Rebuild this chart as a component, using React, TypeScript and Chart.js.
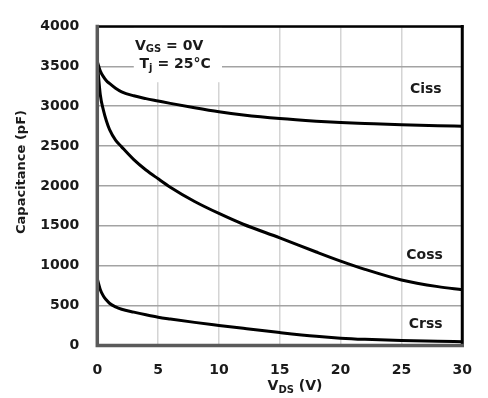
import React, { useEffect, useRef } from "react";
import { Chart, registerables } from "chart.js";
Chart.register(...registerables);

// V_DS sample points (V)
const vds = [0, 0.25, 0.5, 0.75, 1, 1.5, 2, 3, 4, 5, 6, 8, 10, 12, 15, 18, 20, 22, 25, 28, 30];
// Capacitance values (pF)
const ciss = [3560, 3440, 3370, 3320, 3285, 3225, 3180, 3130, 3095, 3065, 3035, 2980, 2930, 2890, 2845, 2812, 2795, 2783, 2766, 2754, 2748];
const coss = [3550, 3140, 2950, 2815, 2710, 2575, 2490, 2330, 2200, 2090, 1985, 1805, 1655, 1520, 1350, 1172, 1058, 955, 822, 738, 700];
const crss = [835, 700, 620, 570, 530, 485, 455, 418, 385, 355, 332, 290, 252, 215, 162, 115, 92, 77, 62, 52, 48];

const seriesNames = ["Ciss", "Coss", "Crss"];
const xTitleMain = "V";
const xTitleSub = "DS";
const xTitleRest = " (V)";
const yTitle = "Capacitance (pF)";

const FONT = "'DejaVu Sans', sans-serif";

export default function App() {
  const ref = useRef<HTMLCanvasElement | null>(null);

  useEffect(() => {
    const canvas = ref.current;
    if (!canvas) return;

    const drawSub = (
      ctx: CanvasRenderingContext2D,
      parts: { t: string; sub?: boolean }[],
      cx: number,
      cy: number,
      size: number
    ) => {
      const subSize = Math.round(size * 0.68);
      let total = 0;
      const widths = parts.map((p) => {
        ctx.font = `bold ${p.sub ? subSize : size}px ${FONT}`;
        const w = ctx.measureText(p.t).width;
        total += w;
        return w;
      });
      let x = cx - total / 2;
      ctx.textBaseline = "middle";
      ctx.textAlign = "left";
      parts.forEach((p, i) => {
        ctx.font = `bold ${p.sub ? subSize : size}px ${FONT}`;
        ctx.fillText(p.t, x, p.sub ? cy + size * 0.28 : cy);
        x += widths[i];
      });
    };

    const customPlugin = {
      id: "custom",
      beforeDatasetsDraw(chart: any) {
        const { ctx, scales } = chart;
        const xs = scales.x;
        const ys = scales.y;
        ctx.save();
        ctx.fillStyle = "#ffffff";
        const x0 = xs.getPixelForValue(3.0);
        const x1 = xs.getPixelForValue(10.25);
        const y0 = ys.getPixelForValue(4000) + 1;
        const y1 = ys.getPixelForValue(3300);
        ctx.fillRect(x0, y0, x1 - x0, y1 - y0);
        ctx.restore();
      },
      afterDatasetsDraw(chart: any) {
        const { ctx, chartArea, scales } = chart;
        const xs = scales.x;
        const ys = scales.y;
        const { left, right, top, bottom } = chartArea;
        ctx.save();
        // frame
        ctx.lineCap = "square";
        ctx.strokeStyle = "#000000";
        ctx.lineWidth = 2.5;
        ctx.beginPath();
        ctx.moveTo(left, top);
        ctx.lineTo(right, top);
        ctx.stroke();
        ctx.lineWidth = 3;
        ctx.beginPath();
        ctx.moveTo(right, top);
        ctx.lineTo(right, bottom);
        ctx.stroke();
        ctx.strokeStyle = "#5a5a5a";
        ctx.lineWidth = 3.5;
        ctx.beginPath();
        ctx.moveTo(left, top);
        ctx.lineTo(left, bottom);
        ctx.lineTo(right, bottom);
        ctx.stroke();

        ctx.fillStyle = "#1a1a1a";
        // annotation
        drawSub(
          ctx,
          [{ t: "V" }, { t: "GS", sub: true }, { t: " = 0V" }],
          xs.getPixelForValue(5.9),
          ys.getPixelForValue(3755),
          14
        );
        drawSub(
          ctx,
          [{ t: "T" }, { t: "j", sub: true }, { t: " = 25°C" }],
          xs.getPixelForValue(6.4),
          ys.getPixelForValue(3525),
          14
        );
        // series labels
        ctx.font = `bold 14px ${FONT}`;
        ctx.textAlign = "center";
        ctx.textBaseline = "middle";
        ctx.fillText(seriesNames[0], xs.getPixelForValue(27.0), ys.getPixelForValue(3215));
        ctx.fillText(seriesNames[1], xs.getPixelForValue(26.9), ys.getPixelForValue(1130));
        ctx.fillText(seriesNames[2], xs.getPixelForValue(27.0), ys.getPixelForValue(262));

        // axis titles
        drawSub(
          ctx,
          [{ t: xTitleMain }, { t: xTitleSub, sub: true }, { t: xTitleRest }],
          295,
          386,
          14
        );
        ctx.save();
        ctx.translate(22, 172);
        ctx.rotate(-Math.PI / 2);
        ctx.font = `bold 13px ${FONT}`;
        ctx.textAlign = "center";
        ctx.textBaseline = "middle";
        ctx.fillText(yTitle, 0, 0);
        ctx.restore();
        ctx.restore();
      },
    };

    const mk = (vals: number[]) => vds.map((x, i) => ({ x, y: vals[i] }));

    const chart = new Chart(canvas, {
      type: "line",
      data: {
        datasets: [ciss, coss, crss].map((vals, i) => ({
          label: seriesNames[i],
          data: mk(vals),
          borderColor: "#000000",
          borderWidth: 3,
          pointRadius: 0,
          fill: false,
          cubicInterpolationMode: "monotone" as const,
        })),
      },
      options: {
        animation: false,
        responsive: false,
        maintainAspectRatio: false,
        layout: { padding: { left: 0, top: 18, right: 19, bottom: 0 } },
        plugins: {
          legend: { display: false },
          tooltip: { enabled: false },
        },
        scales: {
          x: {
            type: "linear",
            min: 0,
            max: 30,
            afterFit(scale: any) {
              scale.height = 52.5;
            },
            ticks: {
              stepSize: 5,
              padding: 16,
              color: "#1a1a1a",
              font: { family: FONT, size: 14, weight: "bold" },
              maxRotation: 0,
              callback: (v: any) => String(v),
            },
            grid: { color: "#d4d4d4", lineWidth: 1.5, drawTicks: false },
            border: { display: false },
          },
          y: {
            type: "linear",
            min: 0,
            max: 4000,
            afterFit(scale: any) {
              scale.width = 97.3;
            },
            ticks: {
              stepSize: 500,
              padding: 18,
              color: "#1a1a1a",
              font: { family: FONT, size: 14, weight: "bold" },
              callback: (v: any) => String(v),
            },
            grid: { color: "#a3a3a3", lineWidth: 1.5, drawTicks: false },
            border: { display: false },
          },
        },
      },
      plugins: [customPlugin],
    });

    return () => chart.destroy();
  }, []);

  return (
    <div style={{ position: "fixed", left: 0, top: 0, width: 488, height: 398, background: "#fff" }}>
      <canvas ref={ref} width={488} height={398} style={{ width: 488, height: 398 }} />
    </div>
  );
}
